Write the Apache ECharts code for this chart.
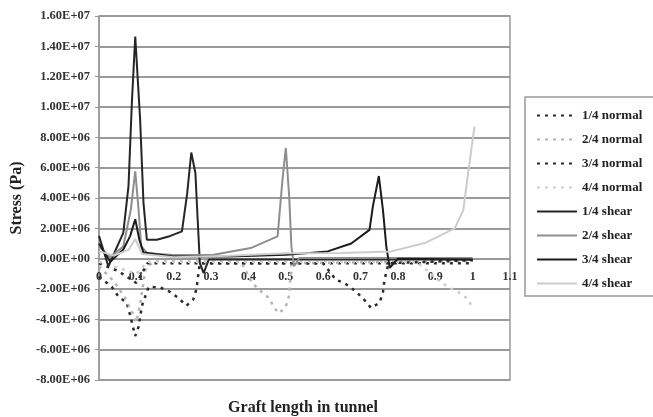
<!DOCTYPE html>
<html>
<head>
<meta charset="utf-8">
<script src="https://cdn.jsdelivr.net/npm/echarts@6/dist/echarts.min.js"></script>
<style>
html, body { margin: 0; padding: 0; background: #fff; }
#chart { width: 653px; height: 417px; }
</style>
</head>
<body>
<div id="chart"></div>
<script>
// [graft length, stress in Pa]
var normal14 = [[0,-1.2e6],[0.034,-1.85e6],[0.052,-2.5e6],[0.074,-2.9e6],[0.083,-3.7e6],[0.091,-4.5e6],[0.097,-5.1e6],[0.106,-4.5e6],[0.115,-3.1e6],[0.133,-1.85e6],[0.164,-1.9e6],[0.191,-2.2e6],[0.213,-2.6e6],[0.234,-3.1e6],[0.252,-2.7e6],[0.261,-2.0e6],[0.264,-1.36e6],[0.27,-0.3e6],[1.0,-0.3e6]];
var normal24 = [[0,-0.5e6],[0.04,-1.5e6],[0.07,-2.6e6],[0.09,-3.6e6],[0.1,-4.2e6],[0.11,-3.0e6],[0.125,-0.6e6],[0.15,-0.15e6],[0.38,-0.2e6],[0.41,-1.6e6],[0.433,-2.15e6],[0.455,-2.6e6],[0.469,-3.25e6],[0.482,-3.6e6],[0.5,-3.15e6],[0.509,-2.4e6],[0.515,-0.3e6],[1.0,-0.15e6]];
var normal34 = [[0,-0.3e6],[0.05,-0.8e6],[0.1,-1.6e6],[0.13,-0.3e6],[0.6,-0.3e6],[0.634,-1.4e6],[0.657,-1.6e6],[0.684,-2.1e6],[0.706,-2.6e6],[0.728,-3.25e6],[0.751,-2.9e6],[0.76,-2.2e6],[0.764,-1.4e6],[0.775,-0.3e6],[1.0,-0.1e6]];
var normal44 = [[0,-0.2e6],[0.1,-1.0e6],[0.13,-0.2e6],[0.85,-0.2e6],[0.908,-1.4e6],[0.935,-1.9e6],[0.961,-2.2e6],[0.984,-2.6e6],[1.0,-3.2e6]];

var shear14 = [[0,1.5e6],[0.025,-0.5e6],[0.065,1.7e6],[0.079,4.8e6],[0.088,10.3e6],[0.097,14.65e6],[0.11,9.2e6],[0.119,3.7e6],[0.128,1.25e6],[0.155,1.25e6],[0.191,1.5e6],[0.222,1.8e6],[0.236,4.3e6],[0.247,7.0e6],[0.258,5.65e6],[0.264,2.6e6],[0.27,-0.3e6],[0.28,-0.95e6],[0.294,-0.05e6],[1.0,-0.05e6]];
var shear24 = [[0,0.8e6],[0.03,0.1e6],[0.065,0.8e6],[0.085,3.2e6],[0.097,5.75e6],[0.105,3.5e6],[0.113,0.8e6],[0.13,0.35e6],[0.2,0.25e6],[0.307,0.26e6],[0.406,0.7e6],[0.478,1.47e6],[0.491,5.2e6],[0.5,7.3e6],[0.509,4.1e6],[0.515,0.8e6],[0.522,-0.5e6],[0.536,0.05e6],[1.0,0.05e6]];
var shear34 = [[0,1.0e6],[0.03,-0.2e6],[0.065,0.6e6],[0.083,1.47e6],[0.097,2.6e6],[0.108,1.25e6],[0.119,0.4e6],[0.2,0.15e6],[0.35,0.15e6],[0.5,0.25e6],[0.612,0.48e6],[0.675,1.0e6],[0.724,1.9e6],[0.733,3.45e6],[0.749,5.45e6],[0.76,3.2e6],[0.769,0.8e6],[0.778,-0.6e6],[0.8,0],[1.0,-0.05e6]];
var shear44 = [[0,0.5e6],[0.04,0.2e6],[0.08,0.6e6],[0.097,1.3e6],[0.115,0.3e6],[0.2,0.1e6],[0.35,0.2e6],[0.5,0.35e6],[0.648,0.37e6],[0.782,0.48e6],[0.872,1.03e6],[0.952,2.0e6],[0.975,3.2e6],[0.988,5.65e6],[1.0,7.85e6],[1.005,8.7e6]];

var seriesNames = ['1/4 normal', '2/4 normal', '3/4 normal', '4/4 normal', '1/4 shear', '2/4 shear', '3/4 shear', '4/4 shear'];
var seriesData = [normal14, normal24, normal34, normal44, shear14, shear24, shear34, shear44];
var seriesColors = ['#2b2b2b', '#b4b4b4', '#2b2b2b', '#cdcdcd', '#262626', '#8e8e8e', '#1c1c1c', '#cccccc'];

var serif = '"Liberation Serif", "DejaVu Serif", serif';

function sciLabel(v) {
    if (v === 0) return '0.00E+00';
    var e = Math.floor(Math.log10(Math.abs(v)) + 1e-9);
    var m = v / Math.pow(10, e);
    return m.toFixed(2) + 'E' + (e < 0 ? '-' : '+') + String(Math.abs(e)).padStart(2, '0');
}

var series = [];
for (var i = 0; i < seriesNames.length; i++) {
    var dashed = i < 4;
    series.push({
        name: seriesNames[i],
        type: 'line',
        data: seriesData[i],
        symbol: 'none',
        smooth: false,
        color: seriesColors[i],
        lineStyle: {
            color: seriesColors[i],
            width: dashed ? 2.5 : 2,
            type: dashed ? [3, 5] : 'solid',
        },
        z: dashed ? 2 : 3,
    });
}

var myChart = echarts.init(document.getElementById('chart'), null, { renderer: 'canvas' });
myChart.setOption({
    animation: false,
    backgroundColor: '#fff',
    grid: {
        left: 99, right: 143, top: 16, bottom: 37,
        show: true, borderColor: '#999', borderWidth: 1.5,
    },
    legend: {
        data: seriesNames,
        orient: 'vertical',
        left: 525,
        top: 97,
        padding: [12, 20, 6, 11],
        itemWidth: 40,
        itemHeight: 12,
        itemGap: 11,
        itemStyle: { opacity: 0 },
        borderColor: '#999',
        borderWidth: 1.5,
        textStyle: { fontFamily: serif, fontWeight: 'bold', fontSize: 13, color: '#222' },
    },
    xAxis: {
        type: 'value',
        min: 0,
        max: 1.1,
        interval: 0.1,
        offset: -121,   // axis sits on the zero line, labels with it
        axisLine: { onZero: false, lineStyle: { color: '#999', width: 2 } },
        axisTick: { show: false },
        splitLine: { show: false },
        axisLabel: {
            margin: 12,
            fontFamily: serif, fontWeight: 'bold', fontSize: 12, color: '#333',
            formatter: function (v) { return String(+v.toFixed(1)); },
        },
    },
    yAxis: {
        type: 'value',
        min: -8e6,
        max: 1.6e7,
        interval: 2e6,
        name: 'Stress (Pa)',
        nameLocation: 'middle',
        nameGap: 72,
        nameTextStyle: { fontFamily: serif, fontWeight: 'bold', fontSize: 16, color: '#222' },
        axisLine: { show: true, lineStyle: { color: '#999', width: 1.5 } },
        axisTick: { show: true, length: 4, lineStyle: { color: '#999' } },
        splitLine: { lineStyle: { color: '#9a9a9a', width: 2 } },
        axisLabel: {
            margin: 9,
            fontFamily: serif, fontWeight: 'bold', fontSize: 12.5, color: '#333',
            formatter: sciLabel,
        },
    },
    graphic: [{
        type: 'text',
        x: 303,
        y: 408,
        style: {
            text: 'Graft length in tunnel',
            font: 'bold 16px ' + serif,
            fill: '#222',
            align: 'center',
            verticalAlign: 'middle',
        },
    }],
    series: series,
});
</script>
</body>
</html>
